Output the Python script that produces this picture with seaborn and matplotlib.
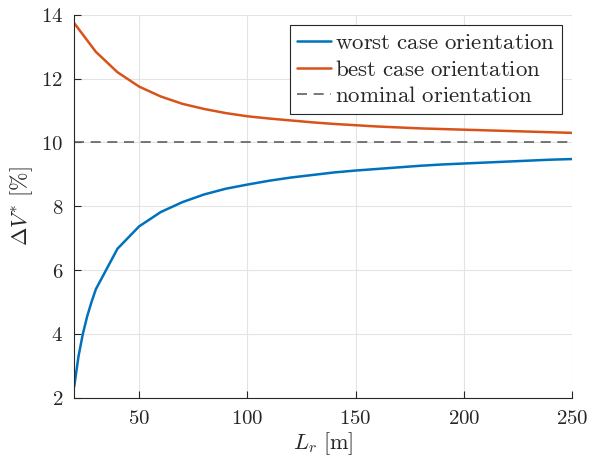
import numpy as np
import pandas as pd
import matplotlib
matplotlib.use("Agg")
import matplotlib.pyplot as plt
import seaborn as sns

# values
L_worst = [20, 22, 24, 26, 28, 30, 40, 50, 60, 70, 80, 90, 100, 110, 120, 130, 140,
           150, 160, 170, 180, 190, 200, 210, 220, 230, 240, 250]
dv_worst = [2.35, 3.3, 4.0, 4.55, 5.0, 5.4, 6.67, 7.37, 7.82, 8.13, 8.37, 8.55, 8.68,
            8.80, 8.90, 8.98, 9.06, 9.12, 9.17, 9.22, 9.27, 9.31, 9.34, 9.37, 9.40,
            9.43, 9.46, 9.48]
L_best = [20, 30, 40, 50, 60, 70, 80, 90, 100, 110, 120, 130, 140, 150, 160, 170,
          180, 190, 200, 210, 220, 230, 240, 250]
dv_best = [13.74, 12.84, 12.2, 11.75, 11.44, 11.21, 11.05, 10.92, 10.82, 10.75, 10.69,
           10.63, 10.58, 10.54, 10.50, 10.47, 10.44, 10.42, 10.40, 10.38, 10.36, 10.34,
           10.32, 10.30]
L_nom = [20, 250]
dv_nom = [10, 10]

sns.set_style("ticks")
plt.rcParams['mathtext.fontset'] = 'cm'
plt.rcParams['font.family'] = ['DejaVu Serif']

fig = plt.figure(figsize=(6.08, 4.62), dpi=100)
ax = fig.add_axes([0.122, 0.139, 0.819, 0.829])

sns.lineplot(x=L_worst, y=dv_worst, ax=ax, color='#0072BD', lw=1.8,
             label=r'$\mathrm{worst\ case\ orientation}$')
sns.lineplot(x=L_best, y=dv_best, ax=ax, color='#D95319', lw=1.8,
             label=r'$\mathrm{best\ case\ orientation}$')
sns.lineplot(x=L_nom, y=dv_nom, ax=ax, color='#606060', lw=1.2, ls=(0, (6, 4)),
             label=r'$\mathrm{nominal\ orientation}$')

ax.set_xlim(20, 250)
ax.set_ylim(2, 14)
xt = [50, 100, 150, 200, 250]
yt = [2, 4, 6, 8, 10, 12, 14]
ax.set_xticks(xt)
ax.set_yticks(yt)
ax.set_xticklabels([f'${v}$' for v in xt], fontsize=15)
ax.set_yticklabels([f'${v}$' for v in yt], fontsize=15)
ax.tick_params(direction='in', length=5, width=0.8, color='#262626', pad=8)
ax.grid(True, color='#e3e3e3', lw=0.8)
ax.set_axisbelow(True)
for s in ['top', 'right']:
    ax.spines[s].set_visible(False)
for s in ['left', 'bottom']:
    ax.spines[s].set_color('#262626')
    ax.spines[s].set_linewidth(0.8)

ax.set_xlabel(r'$L_r\ [\mathrm{m}]$', fontsize=16, labelpad=2)
ax.set_ylabel(r'$\Delta V^{*}\ [\%]$', fontsize=16, labelpad=4)

leg = ax.legend(loc='upper right', fontsize=16.5, frameon=True, fancybox=False,
                handlelength=1.5, handletextpad=0.15, borderpad=0.3,
                labelspacing=0.2, borderaxespad=0.45)
leg.get_frame().set_edgecolor('#262626')
leg.get_frame().set_linewidth(0.8)
leg.get_frame().set_alpha(1)

fig.savefig('out.png', dpi=100)
